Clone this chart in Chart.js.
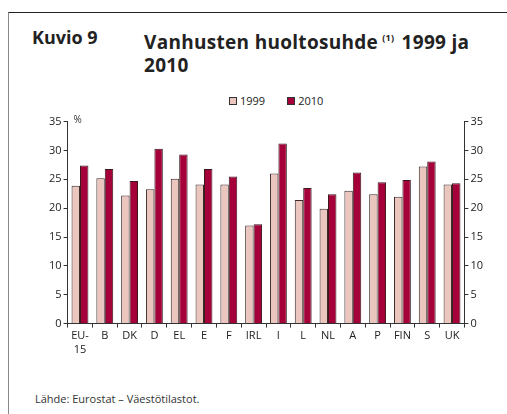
<!DOCTYPE html>
<html>
<head>
<meta charset="utf-8">
<script src="https://cdn.jsdelivr.net/npm/chart.js@4.4.0/dist/chart.umd.min.js"></script>
<style>
    body { margin: 0; background: #fff; font-family: "Open Sans", sans-serif; }
    #page { position: relative; width: 507px; height: 414px; overflow: hidden; }
    #frame { position: absolute; left: 8px; top: 12px; width: 520px; height: 420px;
             border-top: 1.5px solid #222; border-left: 1.5px solid #888; }
    .title { position: absolute; top: 26px; font-weight: bold; font-size: 18px; color: #222; line-height: 23px; }
    .title.main { font-size: 19px; letter-spacing: 0.3px; }
    .title sup { font-size: 9px; vertical-align: 8px; font-weight: bold; margin: 0 2px 0 4px; }
    #legend { position: absolute; top: 93px; left: 229px; font-size: 11px; color: #222; white-space: nowrap; }
    #legend span.box { display: inline-block; width: 6px; height: 6px; border: 1px solid #333; margin-right: 3px; vertical-align: 0px; }
    #source { position: absolute; left: 35px; top: 391px; font-size: 11px; color: #333; }
    #wrap { position: absolute; left: 0; top: 113px; width: 507px; height: 245px; }
</style>
</head>
<body>
<div id="page">
    <div id="frame"></div>
    <div class="title" style="left:32px;">Kuvio 9</div>
    <div class="title main" style="left:144px;">Vanhusten huoltosuhde<sup>(1)</sup> 1999 ja<br>2010</div>
    <div id="legend"></div>
    <div id="wrap"><canvas id="chart"></canvas></div>
    <div id="source">Lähde: Eurostat – Väestötilastot.</div>
</div>
<script>
// Chart data
const countries = [["EU-", "15"], "B", "DK", "D", "EL", "E", "F", "IRL", "I", "L", "NL", "A", "P", "FIN", "S", "UK"];
const values1999 = [23.9, 25.2, 22.2, 23.3, 25.1, 24.1, 24.1, 17.0, 26.0, 21.4, 19.9, 23.0, 22.4, 22.0, 27.2, 24.1];
const values2010 = [27.4, 26.8, 24.7, 30.3, 29.3, 26.8, 25.5, 17.2, 31.2, 23.5, 22.4, 26.2, 24.5, 24.9, 28.1, 24.3];
const yTicks = [0, 5, 10, 15, 20, 25, 30, 35];

const seriesNames = ["1999", "2010"];
const seriesColors = ["#ebc6bf", "#a5003a"];

const tickFont = { family: "Open Sans", size: 11 };

// Build the legend in HTML
const legendDiv = document.getElementById("legend");
seriesNames.forEach(function(name, i){
    const item = document.createElement("span");
    item.style.marginRight = i === 0 ? "22px" : "0";
    item.innerHTML = '<span class="box" style="background:' + seriesColors[i] + '"></span>' + name;
    legendDiv.appendChild(item);
});

// "%" unit label next to the top of the left axis
const percentLabel = {
    id: "percentLabel",
    afterDraw(chart) {
        const ctx = chart.ctx;
        const y = chart.scales.y;
        ctx.save();
        ctx.font = "10px Open Sans";
        ctx.fillStyle = "#333";
        ctx.textBaseline = "middle";
        ctx.fillText("%", y.right + 6, y.getPixelForValue(35) - 1);
        ctx.restore();
    }
};

new Chart(document.getElementById("chart"), {
    type: "bar",
    data: {
        labels: countries,
        datasets: [
            {
                label: seriesNames[0],
                data: values1999,
                backgroundColor: seriesColors[0],
                borderColor: "#3a2a2a",
                borderWidth: 1,
                categoryPercentage: 0.68,
                barPercentage: 1.0,
            },
            {
                label: seriesNames[1],
                data: values2010,
                backgroundColor: seriesColors[1],
                borderColor: "#3a1a1a",
                borderWidth: 1,
                categoryPercentage: 0.68,
                barPercentage: 1.0,
            },
        ],
    },
    options: {
        responsive: true,
        maintainAspectRatio: false,
        animation: false,
        layout: { padding: { left: 47, right: 22, top: 0, bottom: 0 } },
        plugins: {
            legend: { display: false },
            tooltip: { enabled: false },
        },
        scales: {
            x: {
                grid: { display: true, drawOnChartArea: false, offset: true, tickLength: 4, color: "#333" },
                border: { color: "#333" },
                ticks: { color: "#222", font: tickFont, maxRotation: 0, autoSkip: false, padding: 2 },
            },
            y: {
                min: 0,
                max: 35,
                afterBuildTicks: (axis) => { axis.ticks = yTicks.map(v => ({ value: v })); },
                grid: { display: true, drawOnChartArea: false, tickLength: 4, color: "#333" },
                border: { color: "#333" },
                ticks: { color: "#222", font: tickFont, padding: 2 },
            },
            y2: {
                position: "right",
                min: 0,
                max: 35,
                afterBuildTicks: (axis) => { axis.ticks = yTicks.map(v => ({ value: v })); },
                grid: { display: true, drawOnChartArea: false, tickLength: 4, color: "#333" },
                border: { color: "#333" },
                ticks: { color: "#222", font: tickFont, padding: 2 },
            },
        },
    },
    plugins: [percentLabel],
});
</script>
</body>
</html>
